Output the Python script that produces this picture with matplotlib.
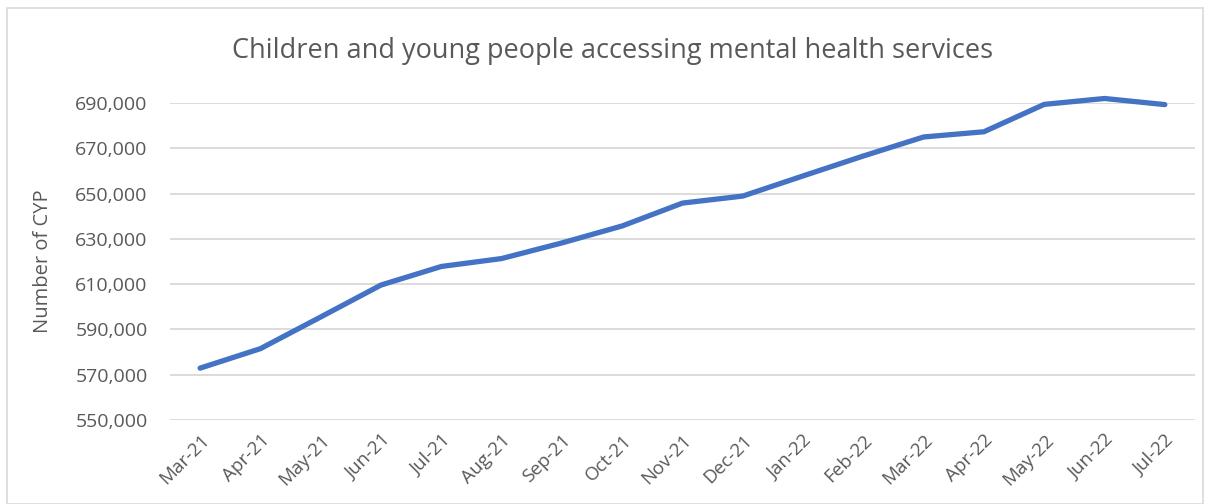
import matplotlib.pyplot as plt
from matplotlib.ticker import FuncFormatter
from matplotlib.patches import Rectangle

months = ["Mar-21", "Apr-21", "May-21", "Jun-21", "Jul-21", "Aug-21", "Sep-21",
          "Oct-21", "Nov-21", "Dec-21", "Jan-22", "Feb-22", "Mar-22", "Apr-22",
          "May-22", "Jun-22", "Jul-22"]
cyp = [572900, 581500, 595500, 609600, 617800, 621300, 628200, 635700, 645800,
       648900, 657800, 666600, 675000, 677300, 689400, 692000, 689300]
yticks = [550000, 570000, 590000, 610000, 630000, 650000, 670000, 690000]

plt.rcParams['font.family'] = ['Open Sans', 'DejaVu Sans']
grey = '#595959'

fig = plt.figure(figsize=(12.08, 5.04), dpi=100)
fig.patches.append(Rectangle((0.006, 0.0), 0.99, 0.985, transform=fig.transFigure,
                             fill=False, edgecolor='#d9d9d9', linewidth=1.2))
ax = fig.add_axes([0.1407, 0.1667, 0.8485, 0.6289])

x = list(range(len(months)))
ax.plot(x, cyp, color='#4472C4', linewidth=3.8, solid_capstyle='round',
        solid_joinstyle='round', clip_on=False, zorder=3)

ax.set_xlim(-0.5, len(months) - 0.5)
ax.set_ylim(550000, 690000)
ax.set_yticks(yticks)
ax.yaxis.set_major_formatter(FuncFormatter(lambda v, p: f"{int(v):,}"))
ax.set_xticks(x)
ax.set_xticklabels(months, rotation=45, ha='right', rotation_mode='anchor')
ax.tick_params(axis='x', length=0, labelsize=13.5, colors=grey, pad=8)
ax.tick_params(axis='y', length=0, labelsize=14, colors=grey, pad=16)
ax.grid(axis='y', color='#d9d9d9', linewidth=1.3)
ax.set_axisbelow(True)
for s in ax.spines.values():
    s.set_visible(False)

ax.set_ylabel("Number of CYP", fontsize=14.5, color=grey, labelpad=16)
fig.text(0.507, 0.898, "Children and young people accessing mental health services",
         ha='center', va='center', fontsize=19.5, color=grey)

fig.savefig("out.png", dpi=100)
